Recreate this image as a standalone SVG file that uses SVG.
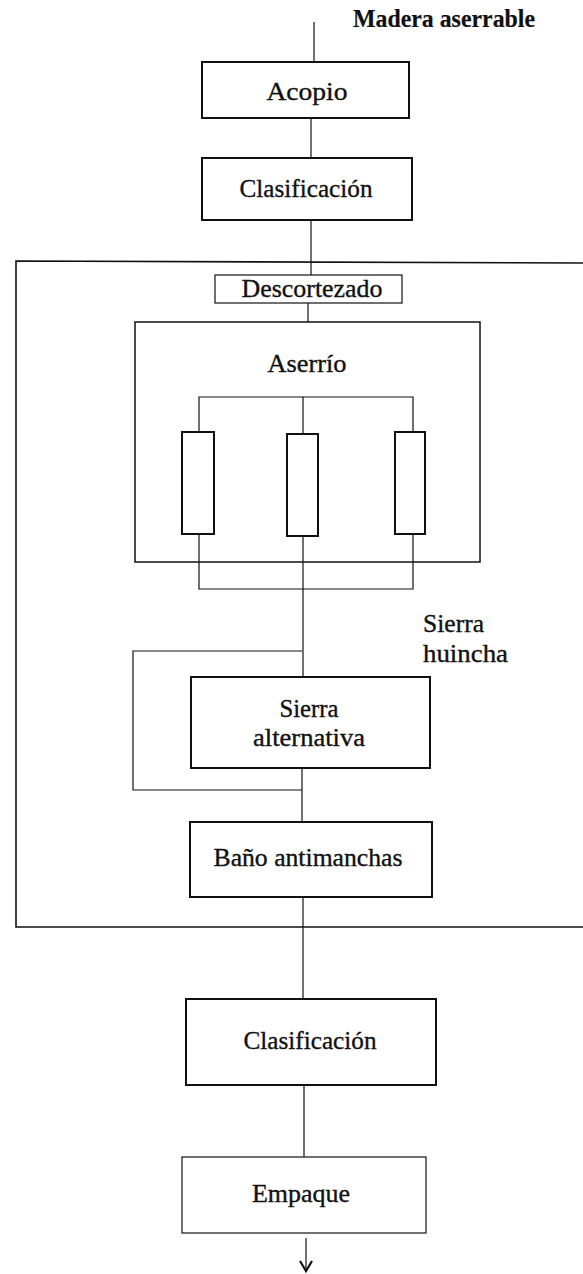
<svg xmlns="http://www.w3.org/2000/svg" width="583" height="1274" viewBox="0 0 583 1274">
<defs>
<style>
.box{fill:#fff;stroke:#111;stroke-width:2}
.thin{fill:#fff;stroke:#111;stroke-width:1.2}
.ln{fill:none;stroke:#111;stroke-width:1.2}
.t{font-family:"Liberation Serif","DejaVu Serif",serif;font-size:25px;fill:#111;stroke:#111;stroke-width:0.35;text-anchor:middle}
.tl{font-family:"Liberation Serif","DejaVu Serif",serif;font-size:25px;fill:#111;stroke:#111;stroke-width:0.35}
.b{font-weight:bold;stroke-width:0.2}
</style>
<marker id="arr" markerUnits="userSpaceOnUse" markerWidth="16" markerHeight="16" refX="13" refY="7" orient="auto" viewBox="0 0 16 14">
<path d="M3,1 L13,7 L3,13" fill="none" stroke="#111" stroke-width="2.2"/>
</marker>
</defs>
<rect width="583" height="1274" fill="#fff"/>

<g id="connectors">
<path class="ln" d="M314,22 V62"/>
<path class="ln" d="M311,118 V158"/>
<path class="ln" d="M311,220 V275"/>
<path class="ln" d="M308,303 V322"/>
<path class="ln" d="M199,432 V397 H413 V432"/>
<path class="ln" d="M303,397 V434"/>
<path class="ln" d="M199,534 V589 H413 V534"/>
<path class="ln" d="M303,536 V677"/>
<path class="ln" d="M302,651 H133 V790 H302"/>
<path class="ln" d="M302,768 V822"/>
<path class="ln" d="M303,897 V999"/>
<path class="ln" d="M304,1085 V1157"/>
<path class="ln" d="M306,1238 V1271" stroke-width="2" marker-end="url(#arr)"/>
</g>

<g id="area">
<path d="M583,263 L16,261 V927 H583" fill="none" stroke="#111" stroke-width="1.6"/>
</g>

<g id="input">
<text class="tl b" x="353" y="27" textLength="182" lengthAdjust="spacingAndGlyphs">Madera aserrable</text>
</g>

<g id="acopio">
<rect class="box" x="202" y="62" width="207" height="56"/>
<text class="t" x="307" y="100" textLength="81" lengthAdjust="spacingAndGlyphs">Acopio</text>
</g>

<g id="clasificacion1">
<rect class="box" x="202" y="158" width="210" height="62"/>
<text class="t" x="306" y="197" textLength="133" lengthAdjust="spacingAndGlyphs">Clasificación</text>
</g>

<g id="descortezado">
<rect class="thin" x="215" y="275" width="187" height="28"/>
<text class="t" x="312" y="297" textLength="141" lengthAdjust="spacingAndGlyphs">Descortezado</text>
</g>

<g id="aserrio">
<rect fill="none" stroke="#111" stroke-width="1.5" x="135" y="322" width="345" height="240"/>
<text class="t" x="307" y="372" textLength="79" lengthAdjust="spacingAndGlyphs">Aserrío</text>
</g>

<g id="sierra1"><rect class="box" x="182" y="432" width="32" height="102"/></g>
<g id="sierra2"><rect class="box" x="287" y="434" width="31" height="102"/></g>
<g id="sierra3"><rect class="box" x="395" y="432" width="30" height="102"/></g>

<g id="huincha">
<text class="tl" x="423" y="632" textLength="61" lengthAdjust="spacingAndGlyphs">Sierra</text>
<text class="tl" x="423" y="662" textLength="85" lengthAdjust="spacingAndGlyphs">huincha</text>
</g>

<g id="alternativa">
<rect class="box" x="191" y="677" width="239" height="91"/>
<text class="t" x="309" y="717" textLength="59" lengthAdjust="spacingAndGlyphs">Sierra</text>
<text class="t" x="309" y="746" textLength="112" lengthAdjust="spacingAndGlyphs">alternativa</text>
</g>

<g id="bano">
<rect class="box" x="190" y="822" width="242" height="75"/>
<text class="t" x="308" y="866" textLength="189" lengthAdjust="spacingAndGlyphs">Baño antimanchas</text>
</g>

<g id="clasificacion2">
<rect class="box" x="186" y="999" width="250" height="86"/>
<text class="t" x="310" y="1049" textLength="133" lengthAdjust="spacingAndGlyphs">Clasificación</text>
</g>

<g id="empaque">
<rect class="thin" x="182" y="1157" width="244" height="76"/>
<text class="t" x="301" y="1202" textLength="98" lengthAdjust="spacingAndGlyphs">Empaque</text>
</g>
</svg>
